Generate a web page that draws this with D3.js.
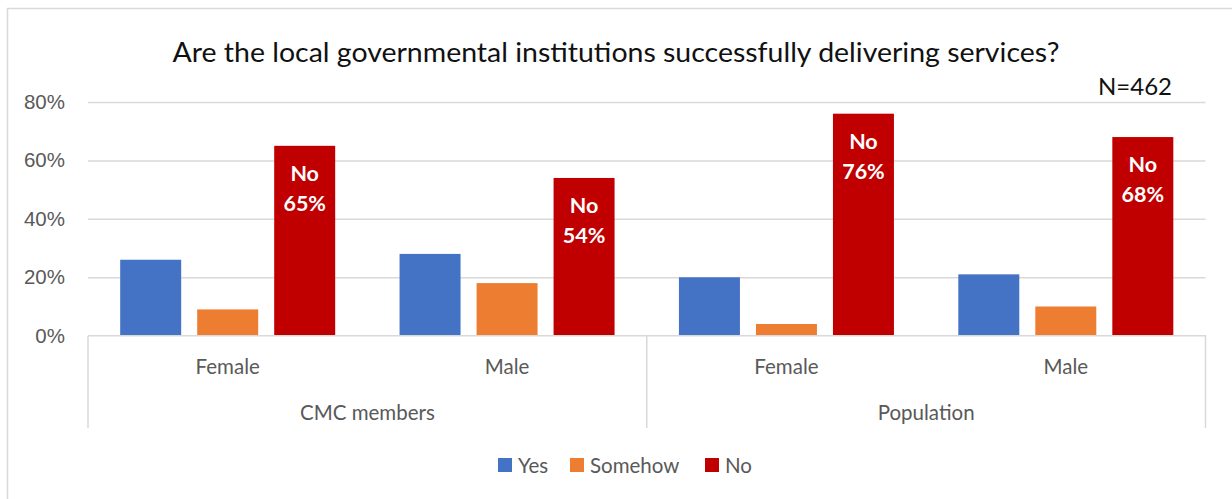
<!DOCTYPE html>
<html>
<head>
<meta charset="utf-8">
<script src="https://cdn.jsdelivr.net/npm/d3@7"></script>
<style>
  html, body { margin: 0; padding: 0; background: #fff; }
  svg { display: block; font-family: Lato, "Open Sans", "Noto Sans", sans-serif; }
</style>
</head>
<body>
<svg id="chart" width="1232" height="499"></svg>
<script>
// Survey answers by respondent group and gender
const groups = ["CMC members", "Population"];
const genders = ["Female", "Male"];
const seriesNames = ["Yes", "Somehow", "No"];
const yesValues = [26, 28, 20, 21];
const somehowValues = [9, 18, 4, 10];
const noValues = [65, 54, 76, 68];
const yTicks = [0, 20, 40, 60, 80];
const seriesColors = ["#4472C4", "#ED7D31", "#C00000"];
const titleText = "Are the local governmental institutions successfully delivering services?";
const noteText = "N=462";

const categories = [];
groups.forEach(g => genders.forEach(s => categories.push({ group: g, gender: s, key: g + "|" + s })));
const seriesValues = [yesValues, somehowValues, noValues];

const svg = d3.select("#chart");
const margin = { left: 88, right: 1205.5, top: 102, bottom: 335.7 };
const labelSize = 20.5;

// outer frame
svg.append("rect")
  .attr("x", 7.5).attr("y", 8.5)
  .attr("width", 1240).attr("height", 500)
  .attr("fill", "none").attr("stroke", "#D9D9D9").attr("stroke-width", 1.5);

const y = d3.scaleLinear().domain([0, 80]).range([margin.bottom, margin.top]);
const x0 = d3.scaleBand().domain(categories.map(d => d.key)).range([margin.left, margin.right]);
const x1 = d3.scaleBand().domain(seriesNames).range([0, x0.bandwidth()])
  .paddingInner(0.208).paddingOuter(0.418);
const color = d3.scaleOrdinal().domain(seriesNames).range(seriesColors);

// gridlines
const yAxis = d3.axisLeft(y).tickValues(yTicks).tickFormat(d => d + "%")
  .tickSize(-(margin.right - margin.left)).tickPadding(23);
const gy = svg.append("g").attr("transform", `translate(${margin.left},0)`).call(yAxis);
gy.select(".domain").remove();
gy.selectAll(".tick line").attr("stroke", "#D9D9D9").attr("stroke-width", 1.5)
  .filter(d => d === 0).remove();
gy.selectAll(".tick text").attr("fill", "#595959").attr("font-size", labelSize);

// bars
const catG = svg.append("g").selectAll("g").data(categories).join("g")
  .attr("transform", d => `translate(${x0(d.key)},0)`);

catG.each(function(c, ci) {
  const g = d3.select(this);
  seriesNames.forEach((s, si) => {
    const v = seriesValues[si][ci];
    g.append("rect")
      .attr("x", x1(s)).attr("width", x1.bandwidth())
      .attr("y", y(v)).attr("height", y(0) - y(v))
      .attr("fill", color(s));
    if (s === "No") {
      const cx = x1(s) + x1.bandwidth() / 2;
      const t = g.append("text").attr("text-anchor", "middle").attr("fill", "#fff")
        .attr("font-weight", 700).attr("font-size", 21.5);
      t.append("tspan").attr("x", cx).attr("y", y(v) + 35).text("No");
      t.append("tspan").attr("x", cx).attr("y", y(v) + 65).text(v + "%");
    }
  });
});

// category axis: baseline and separators
const axisColor = "#D9D9D9";
svg.append("line").attr("x1", margin.left).attr("x2", margin.right + 0.5)
  .attr("y1", margin.bottom).attr("y2", margin.bottom)
  .attr("stroke", axisColor).attr("stroke-width", 1.5);
const groupEdges = [margin.left, (margin.left + margin.right) / 2, margin.right];
svg.selectAll(".sep").data(groupEdges).join("line")
  .attr("x1", d => d).attr("x2", d => d)
  .attr("y1", margin.bottom).attr("y2", 428)
  .attr("stroke", axisColor).attr("stroke-width", 1.5);

svg.append("g").selectAll("text").data(categories).join("text")
  .attr("x", d => x0(d.key) + x0.bandwidth() / 2).attr("y", 374)
  .attr("text-anchor", "middle").attr("fill", "#595959").attr("font-size", labelSize)
  .text(d => d.gender);

const groupBand = d3.scaleBand().domain(groups).range([margin.left, margin.right]);
svg.append("g").selectAll("text").data(groups).join("text")
  .attr("x", d => groupBand(d) + groupBand.bandwidth() / 2).attr("y", 420)
  .attr("text-anchor", "middle").attr("fill", "#595959").attr("font-size", labelSize)
  .text(d => d);

// title and sample size
svg.append("text").attr("x", 616).attr("y", 62).attr("text-anchor", "middle")
  .attr("fill", "#111").attr("font-size", 26).attr("font-weight", 400)
  .attr("textLength", 887).attr("lengthAdjust", "spacingAndGlyphs")
  .text(titleText);
svg.append("text").attr("x", 1172).attr("y", 95).attr("text-anchor", "end")
  .attr("fill", "#111").attr("font-size", 24).attr("font-weight", 400)
  .text(noteText);

// legend
const legendX = [498, 570, 705];
const lg = svg.append("g").selectAll("g").data(seriesNames).join("g")
  .attr("transform", (d, i) => `translate(${legendX[i]},458)`);
lg.append("rect").attr("width", 14).attr("height", 14).attr("fill", d => color(d));
lg.append("text").attr("x", 20).attr("y", 14.5).attr("fill", "#595959")
  .attr("font-size", labelSize).text(d => d);
</script>
</body>
</html>
